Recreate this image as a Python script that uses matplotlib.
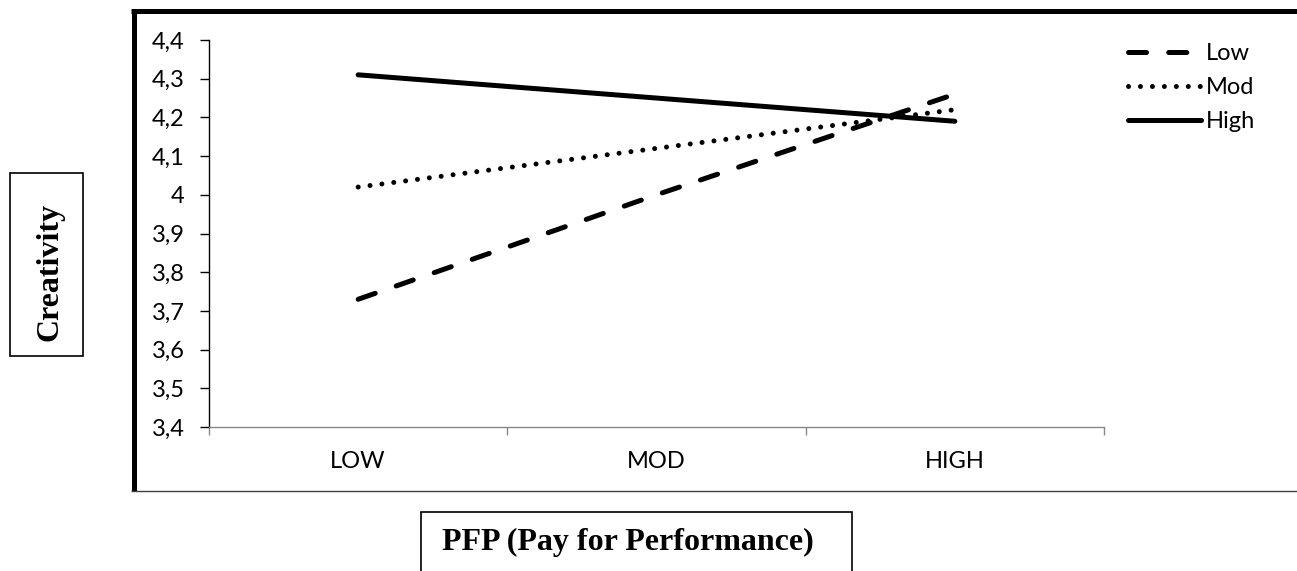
import numpy as np
import matplotlib
matplotlib.use('Agg')
from matplotlib import pyplot as plt
from matplotlib.lines import Line2D
from matplotlib.patches import Rectangle

# values
categories = ['LOW', 'MOD', 'HIGH']
low = [3.73, 4.00, 4.26]
mod = [4.02, 4.12, 4.22]
high = [4.31, 4.25, 4.19]
yticks = [3.4, 3.5, 3.6, 3.7, 3.8, 3.9, 4.0, 4.1, 4.2, 4.3, 4.4]
ytick_labels = ['3,4', '3,5', '3,6', '3,7', '3,8', '3,9', '4', '4,1', '4,2', '4,3', '4,4']

W, H = 1297, 571
plt.rcParams['lines.scale_dashes'] = False


def fx(px):
    return px / W


def fy(py):
    return 1 - py / H


def main():
    fig = plt.figure(figsize=(W / 100, H / 100), dpi=100)
    ax = fig.add_axes([fx(209), fy(427), fx(1104) - fx(209), fy(40) - fy(427)])
    x = np.arange(len(categories))
    lw = 3.6
    ax.plot(x, low, color='k', lw=lw, dashes=(13, 16), dash_capstyle='round', label='Low')
    ax.plot(x, mod, color='k', lw=lw, dashes=(0.01, 8.6), dash_capstyle='round', label='Mod')
    ax.plot(x, high, color='k', lw=lw, solid_capstyle='round', label='High')

    ax.set_xlim(-0.5, 2.5)
    ax.set_ylim(3.4, 4.4)
    ax.set_yticks(yticks)
    ax.set_yticklabels(ytick_labels, family='Lato', size=17)
    ax.set_xticks([-0.5, 0.5, 1.5, 2.5])
    ax.set_xticklabels([])
    ax.set_xticks(x, minor=True)
    ax.set_xticklabels(categories, minor=True, family='Lato', size=17)
    ax.tick_params(axis='x', which='major', length=6, width=1, color='#888888', direction='out')
    ax.tick_params(axis='x', which='minor', length=0, pad=17)
    ax.tick_params(axis='y', length=6.5, width=1, color='k', pad=11)
    for s in ['top', 'right']:
        ax.spines[s].set_visible(False)
    ax.spines['left'].set_linewidth(1.0)
    ax.spines['bottom'].set_color('#888888')
    ax.spines['bottom'].set_linewidth(1.0)

    ax.legend(loc='upper left', bbox_to_anchor=(fx(1128), fy(43)),
              bbox_transform=fig.transFigure, frameon=False,
              prop={'family': 'Lato', 'size': 17}, handlelength=3.1,
              handletextpad=0.2, labelspacing=0.55, borderpad=0, borderaxespad=0)

    # outer frame
    fig.add_artist(Line2D([fx(133.5), fx(133.5)], [fy(8.5), fy(491)], color='k', lw=3.6,
                          solid_capstyle='butt', transform=fig.transFigure))
    fig.add_artist(Line2D([fx(131), fx(1297)], [fy(10.8), fy(10.8)], color='k', lw=3.6,
                          solid_capstyle='butt', transform=fig.transFigure))
    fig.add_artist(Line2D([fx(131), fx(1297)], [fy(491), fy(491)], color='#404040', lw=1.0,
                          solid_capstyle='butt', transform=fig.transFigure))

    # axis title boxes
    fig.add_artist(Rectangle((fx(9.5), fy(356)), fx(82.5) - fx(9.5), fy(173) - fy(356),
                             fill=False, lw=1.2, ec='k', transform=fig.transFigure))
    fig.text(fx(50), fy(272), 'Creativity', rotation=90, ha='center', va='center',
             family='Liberation Serif', weight='bold', size=23)
    fig.add_artist(Rectangle((fx(421), fy(590)), fx(852) - fx(421), fy(512) - fy(590),
                             fill=False, lw=1.2, ec='k', transform=fig.transFigure))
    fig.text(fx(628), fy(550), 'PFP (Pay for Performance)', ha='center', va='baseline',
             family='Liberation Serif', weight='bold', size=23)

    fig.savefig('out.png', dpi=100)


main()
